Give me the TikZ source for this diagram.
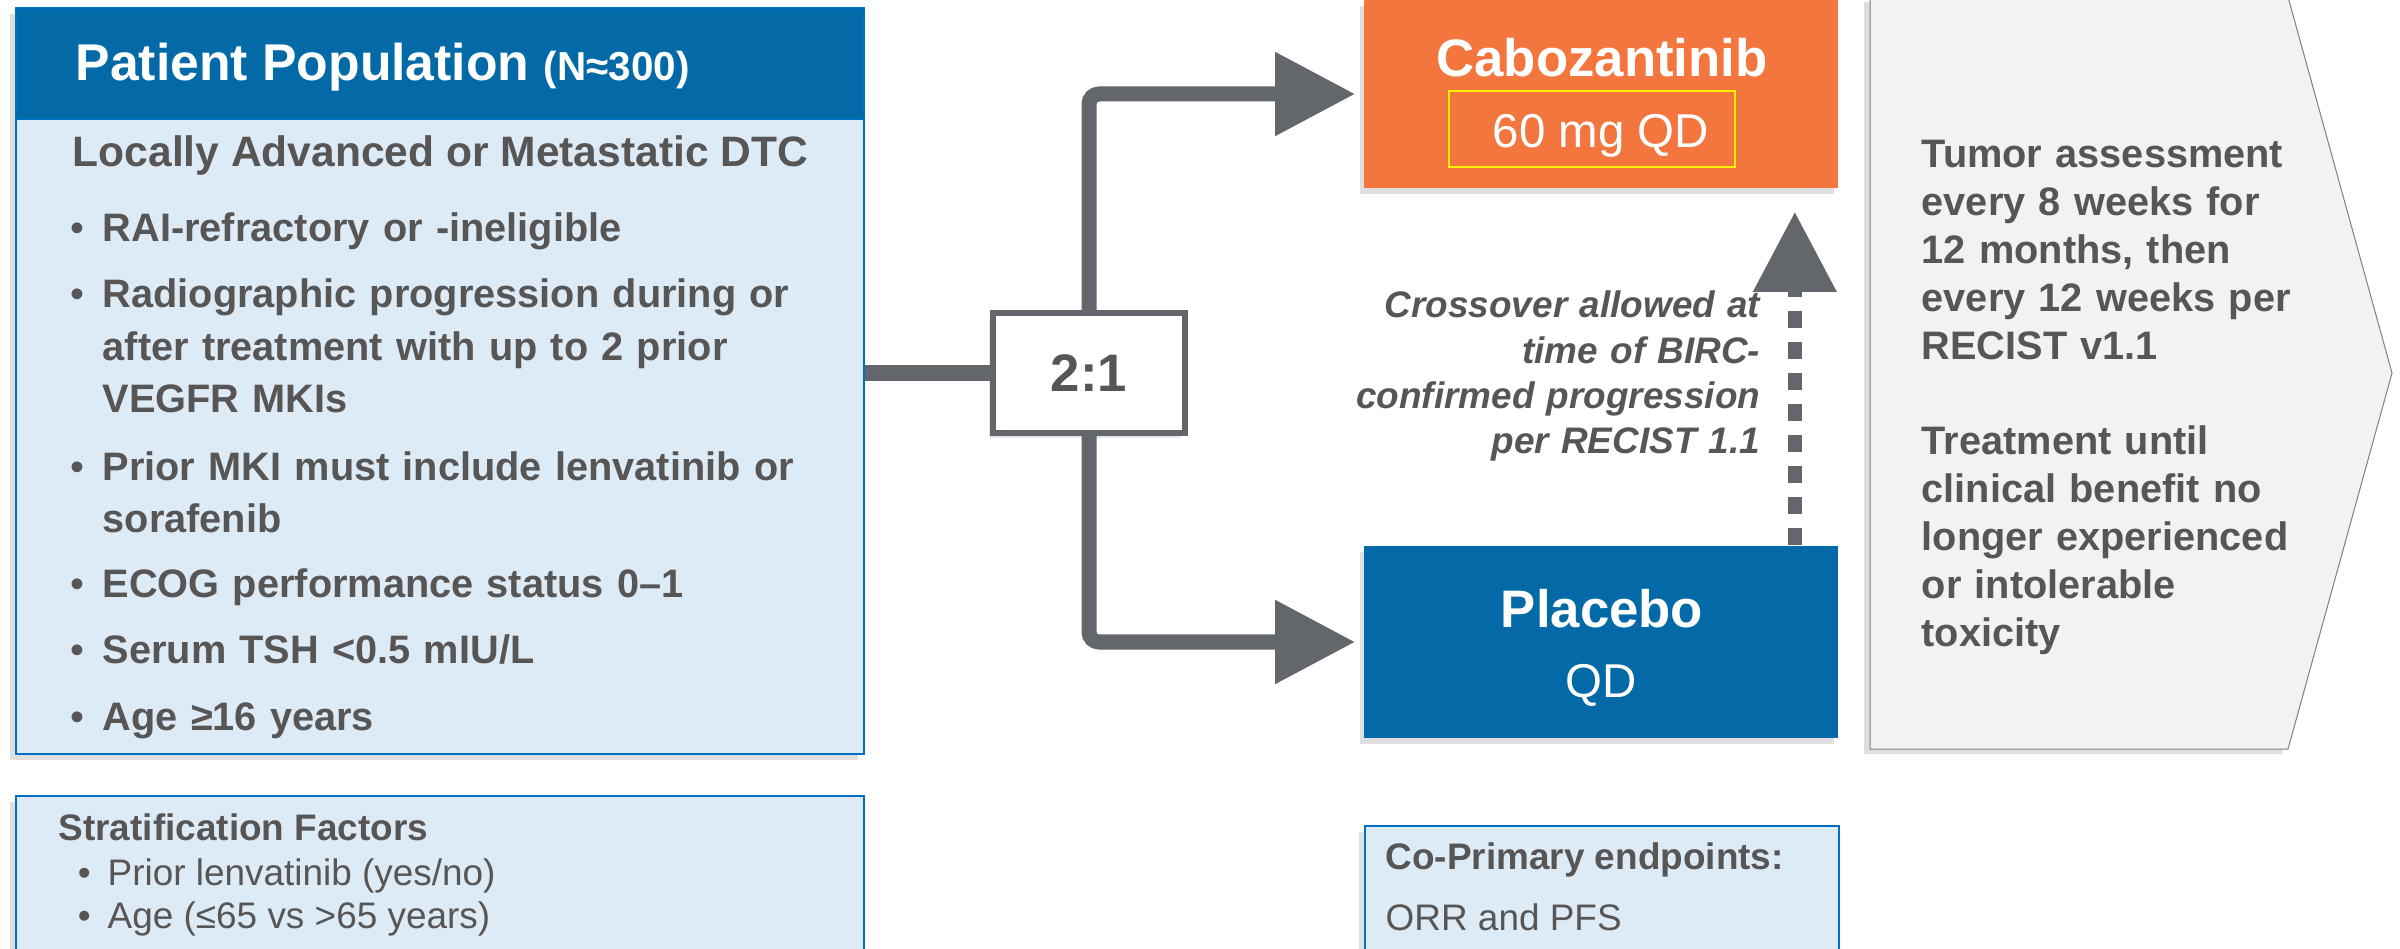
\documentclass[tikz,border=0pt]{standalone}
\usepackage{fontspec}
\setmainfont{Liberation Sans}
\usetikzlibrary{arrows.meta, positioning, calc, shadows}
\definecolor{popblue}{RGB}{3,105,167}
\definecolor{paleblue}{RGB}{221,235,247}
\definecolor{edgeblue}{RGB}{0,112,192}
\definecolor{caboorange}{RGB}{243,118,63}
\definecolor{armgray}{RGB}{99,102,106}
\definecolor{txtgray}{RGB}{88,85,85}
\definecolor{chevfill}{RGB}{242,242,242}
\definecolor{chevedge}{RGB}{127,127,127}
\newcommand{\trialbullet}[1]{\llap{\mdseries\textbullet\hspace{#1}}}

\begin{document}
\begin{tikzpicture}[x=0.01cm, y=-0.01cm, >={Triangle[length=0.8cm, width=0.8cm]}]
  \tikzstyle{panel} = [rectangle, draw=edgeblue, fill=paleblue, line width=0.02cm, inner sep=0pt, anchor=north west, drop shadow={shadow xshift=-0.06cm, shadow yshift=-0.06cm, opacity=0.25}]
  \tikzstyle{armbox} = [rectangle, inner sep=0pt, minimum width=4.74cm, drop shadow={shadow xshift=-0.04cm, shadow yshift=-0.06cm, opacity=0.25}]
  \tikzstyle{bulletline} = [anchor=base west, inner sep=0pt, text width=7.6cm, align=left, text=txtgray, font=\fontsize{11.3}{14.8}\selectfont\bfseries]
  \tikzstyle{smallline} = [anchor=base west, inner sep=0pt, text=txtgray, font=\fontsize{10.5}{12.6}\selectfont]
  \tikzstyle{flow} = [->, armgray, line width=0.15cm, rounded corners=0.1cm, shorten >=0.08cm]
  \tikzstyle{crossflow} = [->, armgray, line width=0.14cm, dash pattern=on 0.17cm off 0.14cm]

  \useasboundingbox (0,0) rectangle (2400,949);
  \clip (0,0) rectangle (2400,949);

  % patient population
  \node [panel, minimum width=8.47cm, minimum height=7.46cm] (popbox) at (15,7) {};
  \node [rectangle, draw=edgeblue, fill=popblue, line width=0.02cm, inner sep=0pt, anchor=north west, minimum width=8.47cm, minimum height=1.11cm] (pophead) at (15,7) {};
  \node [anchor=base west, inner sep=0pt, text=white, font=\fontsize{14.7}{17}\selectfont\bfseries] (poptitle) at (75,81) {Patient Population {\fontsize{11.5}{14}\selectfont (N≈300)}};
  \node [anchor=base west, inner sep=0pt, text=txtgray, font=\fontsize{12.1}{14.5}\selectfont\bfseries] (disease) at (72,167) {Locally Advanced or Metastatic DTC};
  \node [bulletline] (rai) at (102,242) {\trialbullet{0.18cm}RAI-refractory or -ineligible};
  \node [bulletline] (progr) at (102,308) {\trialbullet{0.18cm}Radiographic progression during or\\after treatment with up to 2 prior\\VEGFR MKIs};
  \node [bulletline] (priormki) at (102,480) {\trialbullet{0.18cm}Prior MKI must include lenvatinib or\\sorafenib};
  \node [bulletline] (ecog) at (102,597) {\trialbullet{0.18cm}ECOG performance status 0–1};
  \node [bulletline] (tsh) at (102,663) {\trialbullet{0.18cm}Serum TSH <0.5 mIU/L};
  \node [bulletline] (age) at (102,730) {\trialbullet{0.18cm}Age ≥16 years};

  % stratification
  \node [panel, minimum width=8.47cm, minimum height=2.2cm] (stratbox) at (15,795) {};
  \node [smallline, font=\fontsize{10.5}{12.6}\selectfont\bfseries] (strathead) at (58,840) {Stratification Factors};
  \node [smallline] (stratlen) at (107,885) {\trialbullet{0.17cm}Prior lenvatinib (yes/no)};
  \node [smallline] (stratage) at (107,928) {\trialbullet{0.17cm}Age (≤65 vs >65 years)};

  % randomisation
  \node [rectangle, draw=armgray, fill=white, line width=0.06cm, minimum width=1.92cm, minimum height=1.19cm, text=txtgray, font=\fontsize{15}{18}\selectfont\bfseries, drop shadow={shadow xshift=-0.04cm, shadow yshift=-0.05cm, opacity=0.2}] (ratio) at (1089,373) {2:1};

  % arms
  \node [armbox, fill=caboorange, minimum height=1.88cm] (cabo) at (1601,94) {};
  \node [anchor=base, inner sep=0pt, text=white, font=\fontsize{15}{18}\selectfont\bfseries] (cabotitle) at (1602,77) {Cabozantinib};
  \node [rectangle, draw=yellow, line width=0.02cm, inner sep=0pt, minimum width=2.85cm, minimum height=0.75cm] (dosebox) at (1592,129) {};
  \node [anchor=base, inner sep=0pt, text=white, font=\fontsize{13.5}{16}\selectfont] (dose) at (1601,148) {60 mg QD};

  \node [armbox, fill=popblue, minimum height=1.92cm] (placebo) at (1601,642) {};
  \node [anchor=base, inner sep=0pt, text=white, font=\fontsize{15}{18}\selectfont\bfseries] (placebotitle) at (1602,627) {Placebo};
  \node [anchor=base, inner sep=0pt, text=white, font=\fontsize{13.5}{16}\selectfont] (placebodose) at (1601,697) {QD};

  \draw [armgray, line width=0.15cm] (popbox.east |- ratio) -- (ratio.west);
  \draw [flow] (ratio.north) |- (cabo.west);
  \draw [flow] (ratio.south) |- (placebo.west);

  % crossover
  \draw [crossflow] ([xshift=-0.44cm]placebo.north east) -- ([xshift=-0.44cm, yshift=-0.23cm]cabo.south east);
  \node [anchor=base east, inner sep=0pt, text width=4.3cm, align=right, text=txtgray, font=\fontsize{10.5}{12.8}\selectfont\bfseries\itshape] (crossnote) at (1761,318) {Crossover allowed at\\time of BIRC-\\confirmed progression\\per RECIST 1.1};

  % endpoints
  \node [panel, minimum width=4.74cm, minimum height=2cm] (endbox) at (1364,825) {};
  \node [smallline, font=\fontsize{10.5}{12.6}\selectfont\bfseries] (endhead) at (1385,869) {Co-Primary endpoints:};
  \node [smallline] (endlist) at (1385,930) {ORR and PFS};

  % follow-up chevron
  \draw [draw=chevedge, fill=chevfill, line width=0.01cm, drop shadow={shadow xshift=-0.06cm, shadow yshift=-0.05cm, opacity=0.25}] (1870,-3) -- (2288,-3) -- (2392,373) -- (2288,749) -- (1870,749) -- cycle;
  \node [anchor=base west, inner sep=0pt, text width=4.6cm, align=left, text=txtgray, font=\fontsize{11.3}{13.6}\selectfont\bfseries] (followup) at (1921,168) {Tumor assessment\\every 8 weeks for\\12 months, then\\every 12 weeks per\\RECIST v1.1\\[13.6pt]Treatment until\\clinical benefit no\\longer experienced\\or intolerable\\toxicity};
\end{tikzpicture}
\end{document}
